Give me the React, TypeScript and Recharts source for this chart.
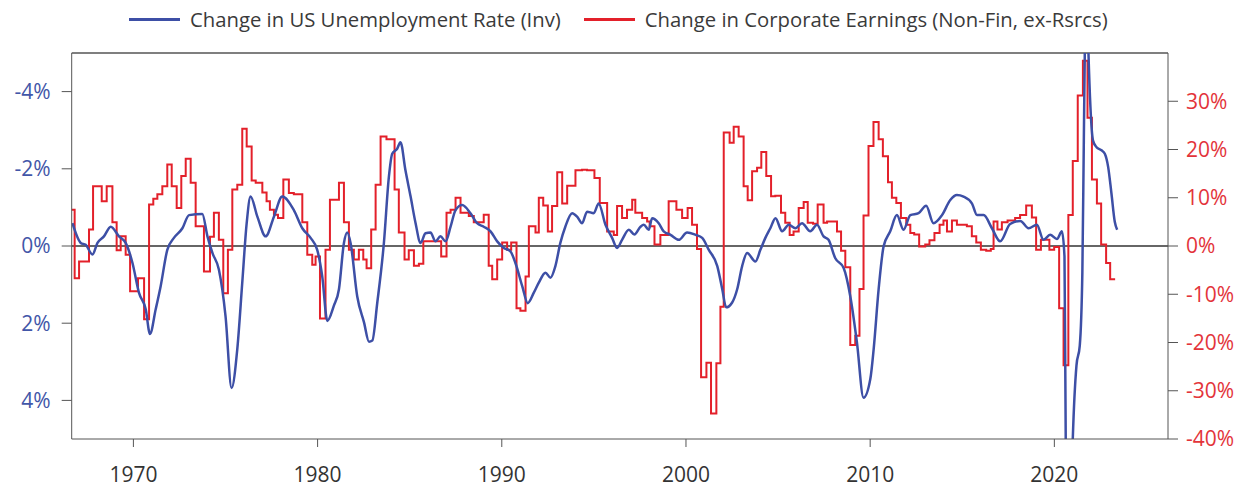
import { LineChart, Line, XAxis, YAxis, ReferenceLine } from 'recharts';

const BLUE = '#3d4fa6';
const RED = '#e3202a';
const FONT = '"Open Sans", "Noto Sans", sans-serif';

// x axis ticks (years)
const yearTicks = [1970, 1980, 1990, 2000, 2010, 2020];
const leftTicks = [-4, -2, 0, 2, 4];
const rightTicks = [-40, -30, -20, -10, 0, 10, 20, 30];

// Change in US unemployment rate (pp, axis inverted)
const unempYears = [
  1966.69, 1967.14, 1967.41, 1967.78, 1968.05, 1968.4, 1968.77, 1969.22, 1969.58, 1969.95,
  1970.3, 1970.67, 1970.9, 1971.21, 1971.48, 1971.84, 1972.2, 1972.66, 1973.02, 1973.74,
  1974.02, 1974.29, 1974.64, 1975.0, 1975.33, 1975.64, 1975.91, 1976.15, 1976.36, 1976.73,
  1977.18, 1977.63, 1978.08, 1978.71, 1979.17, 1979.62, 1979.98, 1980.25, 1980.53, 1980.88,
  1981.16, 1981.43, 1981.61, 1981.79, 1982.15, 1982.52, 1982.79, 1982.97, 1983.24, 1983.6,
  1983.87, 1984.05, 1984.32, 1984.5, 1984.77, 1985.05, 1985.32, 1985.59, 1985.86, 1986.13,
  1986.4, 1986.67, 1986.95, 1987.22, 1987.49, 1987.85, 1988.3, 1988.66, 1989.02, 1989.39,
  1989.75, 1990.11, 1990.47, 1990.74, 1991.11, 1991.41, 1991.74, 1992.01, 1992.37, 1992.64,
  1992.91, 1993.18, 1993.45, 1993.82, 1994.09, 1994.36, 1994.63, 1994.99, 1995.26, 1995.63,
  1995.99, 1996.26, 1996.53, 1996.9, 1997.2, 1997.53, 1997.71, 1997.98, 1998.16, 1998.52,
  1998.79, 1999.16, 1999.61, 2000.06, 2000.52, 2000.88, 2001.24, 2001.7, 2001.97, 2002.18,
  2002.5, 2002.78, 2003.05, 2003.32, 2003.77, 2004.04, 2004.31, 2004.58, 2004.86, 2005.22,
  2005.58, 2005.94, 2006.3, 2006.75, 2007.11, 2007.47, 2007.74, 2008.1, 2008.56, 2008.92,
  2009.28, 2009.64, 2010.01, 2010.19, 2010.46, 2010.73, 2011.09, 2011.45, 2011.81, 2012.18,
  2012.63, 2013.04, 2013.44, 2013.9, 2014.35, 2014.71, 2015.07, 2015.53, 2015.8, 2016.16,
  2016.61, 2017.06, 2017.6, 2018.15, 2018.6, 2019.05, 2019.41, 2019.77, 2020.14, 2020.41,
  2020.55, 2020.62, 2020.8, 2020.98, 2021.2, 2021.38, 2021.52, 2021.6, 2021.66, 2021.75,
  2021.84, 2021.96, 2022.1, 2022.29, 2022.56, 2022.74, 2022.92, 2023.1, 2023.28, 2023.41,
];
const unempVals = [
  -0.59, -0.08, -0.03, 0.22, -0.08, -0.25, -0.5, -0.25, -0.08, 0.44,
  1.21, 1.64, 2.28, 1.64, 1.04, 0.1, -0.21, -0.46, -0.8, -0.83,
  -0.25, 0.18, 0.61, 1.81, 3.68, 2.67, 0.95, -0.59, -1.28, -0.76,
  -0.25, -0.76, -1.28, -0.93, -0.46, -0.21, 0.1, 0.78, 1.94, 1.55,
  1.12, -0.08, -0.35, -0.08, 1.3, 1.98, 2.48, 2.45, 1.47, -0.08,
  -1.79, -2.39, -2.52, -2.69, -1.96, -1.28, -0.59, -0.08, -0.33, -0.35,
  -0.12, -0.25, -0.12, -0.5, -0.93, -1.06, -0.85, -0.59, -0.5, -0.38,
  -0.12, 0.05, 0.14, 0.44, 1.04, 1.48, 1.21, 0.95, 0.69, 0.82,
  0.52, -0.08, -0.5, -0.85, -0.76, -0.59, -0.89, -0.85, -1.1, -0.55,
  -0.21, 0.05, -0.16, -0.42, -0.3, -0.5, -0.55, -0.42, -0.72, -0.59,
  -0.38, -0.29, -0.16, -0.35, -0.29, -0.21, 0.1, 0.52, 1.12, 1.59,
  1.47, 1.12, 0.52, 0.18, 0.4, 0.1, -0.21, -0.46, -0.72, -0.38,
  -0.55, -0.46, -0.59, -0.38, -0.55, -0.25, -0.16, 0.31, 0.57, 1.3,
  2.49, 3.93, 3.44, 2.67, 1.12, 0.01, -0.38, -0.8, -0.42, -0.8,
  -0.85, -1.04, -0.59, -0.8, -1.19, -1.32, -1.28, -1.1, -0.8, -0.8,
  -0.46, -0.12, -0.57, -0.65, -0.46, -0.55, -0.16, -0.29, -0.18, -0.38,
  0.27, 5.2, 9, 5.3, 3.1, 2.58, 0.69, -2.73, -5.3, -7,
  -5.2, -3.59, -2.73, -2.56, -2.48, -2.39, -2.05, -1.36, -0.63, -0.42,
];

// Change in corporate earnings (%), step starts
const earnYears = [
  1966.5, 1966.81, 1967.05, 1967.59, 1967.81, 1968.28, 1968.55, 1968.86, 1969.09, 1969.31,
  1969.58, 1969.82, 1970.25, 1970.58, 1970.85, 1971.08, 1971.3, 1971.57, 1971.84, 1972.08,
  1972.35, 1972.6, 1972.84, 1973.11, 1973.38, 1973.83, 1974.16, 1974.37, 1974.64, 1974.88,
  1975.13, 1975.37, 1975.64, 1975.91, 1976.15, 1976.42, 1976.64, 1977.0, 1977.23, 1977.41,
  1977.63, 1977.85, 1978.14, 1978.44, 1978.71, 1979.17, 1979.44, 1979.71, 1979.89, 1980.13,
  1980.43, 1980.67, 1981.16, 1981.43, 1981.7, 1981.97, 1982.24, 1982.48, 1982.66, 1982.91,
  1983.15, 1983.42, 1983.74, 1984.18, 1984.41, 1984.72, 1984.95, 1985.23, 1985.5, 1985.74,
  1986.71, 1987.0, 1987.22, 1987.49, 1987.76, 1988.21, 1988.48, 1989.02, 1989.29, 1989.48,
  1989.75, 1990.02, 1990.29, 1990.51, 1990.8, 1991.01, 1991.29, 1991.47, 1991.83, 1992.01,
  1992.25, 1992.5, 1992.73, 1993.01, 1993.28, 1993.55, 1994.0, 1994.36, 1994.63, 1995.03,
  1995.32, 1995.72, 1996.08, 1996.26, 1996.53, 1996.8, 1997.08, 1997.25, 1997.62, 1997.89,
  1998.03, 1998.29, 1998.61, 1999.06, 1999.48, 1999.79, 2000.09, 2000.33, 2000.6, 2000.82,
  2001.11, 2001.36, 2001.65, 2001.87, 2002.05, 2002.37, 2002.59, 2002.86, 2003.13, 2003.35,
  2003.59, 2003.86, 2004.09, 2004.36, 2004.62, 2004.85, 2005.16, 2005.39, 2005.63, 2005.84,
  2006.12, 2006.39, 2006.61, 2006.9, 2007.15, 2007.47, 2007.66, 2008.2, 2008.42, 2008.65,
  2008.92, 2009.19, 2009.42, 2009.64, 2009.91, 2010.18, 2010.46, 2010.69, 2010.97, 2011.18,
  2011.42, 2011.67, 2011.96, 2012.18, 2012.39, 2012.66, 2012.99, 2013.22, 2013.49, 2013.77,
  2013.98, 2014.17, 2014.44, 2014.71, 2015.25, 2015.52, 2015.76, 2016.01, 2016.3, 2016.55,
  2016.7, 2016.91, 2017.15, 2017.46, 2017.87, 2018.14, 2018.47, 2018.78, 2019.01, 2019.27,
  2019.73, 2019.99, 2020.26, 2020.5, 2020.76, 2021.0, 2021.27, 2021.55, 2021.8, 2022.04,
  2022.31, 2022.54, 2022.81, 2023.03, 2023.3,
];
const earnVals = [
  7.5, -6.7, -3.2, 3.4, 12.4, 9.3, 12.4, 4.9, -0.9, 2.0,
  -1.8, -9.4, -6.7, -15.2, 8.6, 9.8, 10.7, 12.4, 16.9, 12.4,
  7.9, 14.5, 18.1, 13.1, 4.1, -5.3, 1.9, 6.9, 1.3, -9.8,
  -0.8, 11.7, 12.7, 24.3, 20.6, 13.6, 13.1, 11.1, 9.3, 7.5,
  6.5, 5.8, 13.8, 11.0, 10.7, 4.9, -1.8, -3.9, -2.2, -15.0,
  -0.8, 9.6, 13.1, 4.9, -0.8, -2.8, -0.8, -2.8, -4.6, 3.4,
  12.7, 22.7, 22.1, 11.7, 2.8, -2.8, -0.9, -4.1, -3.7, 1.0,
  -2.2, 6.9, 7.5, 10.0, 6.9, 6.2, 4.9, 6.5, -4.1, -6.9,
  -2.8, 0.75, -0.8, 0.75, -12.9, -13.4, -6.3, 4.1, 2.8, 10.0,
  8.4, 3.0, 8.3, 15.3, 8.8, 12.5, 15.7, 15.8, 15.7, 14.1,
  8.9, 3.0, 2.3, 8.3, 5.8, 7.5, 9.6, 6.9, 5.8, 5.1,
  4.1, 0.3, 2.3, 9.3, 7.5, 5.8, 7.9, 4.4, -0.6, -27.2,
  -24.2, -34.7, -24.3, -12.6, 23.5, 21.4, 24.7, 22.7, 12.4, 9.5,
  15.5, 16.2, 19.5, 14.5, 10.3, 10.4, 6.9, 4.8, 2.3, 3.0,
  7.9, 9.1, 4.8, 4.6, 8.6, 4.8, 5.1, 3.0, -1.0, -4.4,
  -20.5, -18.6, -8.9, 6.3, 20.7, 25.7, 22.1, 18.6, 13.2, 10.0,
  8.9, 5.8, 4.4, 2.7, 2.4, -0.1, 0.3, 1.2, 2.7, 4.4,
  5.3, 3.0, 5.3, 4.4, 4.1, 2.0, 0.75, -0.8, -1.0, -0.6,
  5.1, 3.4, 4.9, 5.3, 5.8, 6.4, 8.4, 5.9, -0.8, 1.3,
  -0.8, -0.2, -12.9, -24.7, 6.4, 17.6, 31.2, 38.4, 26.6, 13.8,
  8.8, 0.3, -3.5, -6.9, -6.9,
];

const unempData = unempYears.map((x, i) => ({ x, v: unempVals[i] }));
const earnData = earnYears.map((x, i) => ({ x, v: earnVals[i] }));

function LegendItem({ color, label }: { color: string; label: string }) {
  return (
    <div style={{ display: 'flex', alignItems: 'center', gap: 10 }}>
      <div style={{ width: 51, height: 3, background: color }} />
      <span>{label}</span>
    </div>
  );
}

export default function App() {
  return (
    <div style={{ position: 'absolute', left: 0, top: 0, width: 1249, height: 487, background: '#fff', fontFamily: FONT }}>
      <div
        style={{
          position: 'absolute', left: 129, top: 5, display: 'flex', gap: 23,
          fontSize: 20.3, fontWeight: 400, color: '#3a3a3a', whiteSpace: 'nowrap',
        }}
      >
        <LegendItem color={BLUE} label="Change in US Unemployment Rate (Inv)" />
        <LegendItem color={RED} label="Change in Corporate Earnings (Non-Fin, ex-Rsrcs)" />
      </div>
      <LineChart width={1249} height={487} margin={{ top: 53, right: 0, bottom: 0, left: 0 }}>
        <XAxis
          type="number"
          dataKey="x"
          domain={[1966.65, 2026.17]}
          ticks={yearTicks}
          allowDataOverflow
          height={48}
          tickSize={8}
          tickMargin={20}
          stroke="#555"
          tick={{ fill: '#333', fontSize: 21, fontFamily: FONT }}
        />
        <YAxis
          yAxisId="l"
          orientation="left"
          reversed
          domain={[-5, 5]}
          ticks={leftTicks}
          allowDataOverflow
          width={71.7}
          tickSize={10}
          tickMargin={11}
          stroke="#555"
          tickFormatter={(v) => `${v}%`}
          tick={{ fill: '#4256a8', fontSize: 21, fontFamily: FONT }}
        />
        <YAxis
          yAxisId="r"
          orientation="right"
          domain={[-40, 40]}
          ticks={rightTicks}
          allowDataOverflow
          width={81}
          tickSize={10}
          tickMargin={8}
          stroke="#555"
          tickFormatter={(v) => `${v}%`}
          tick={{ fill: '#e3343a', fontSize: 21, fontFamily: FONT }}
        />
        <ReferenceLine yAxisId="l" y={-5} stroke="#555" strokeWidth={1.5} />
        <ReferenceLine yAxisId="l" y={0} stroke="#333" strokeWidth={1.5} />
        <Line
          yAxisId="r"
          data={earnData}
          dataKey="v"
          type="stepAfter"
          stroke={RED}
          strokeWidth={2}
          dot={false}
          isAnimationActive={false}
        />
        <Line
          yAxisId="l"
          data={unempData}
          dataKey="v"
          type="monotone"
          stroke={BLUE}
          strokeWidth={2.5}
          dot={false}
          isAnimationActive={false}
        />
      </LineChart>
    </div>
  );
}
